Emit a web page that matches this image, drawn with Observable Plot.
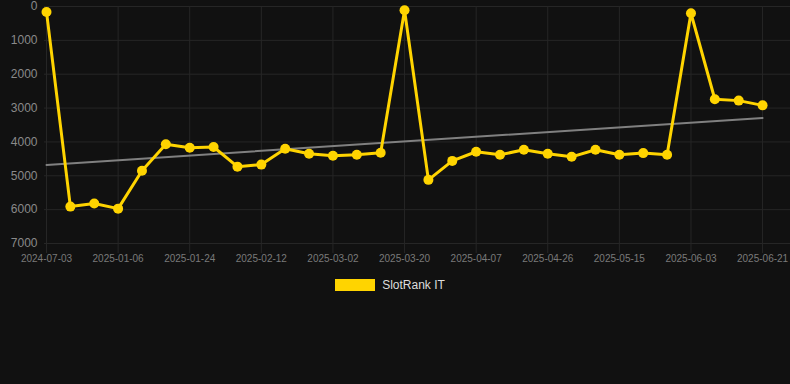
<!DOCTYPE html>
<html>
<head>
<meta charset="utf-8">
<script src="https://cdn.jsdelivr.net/npm/d3@7"></script>
<script src="https://cdn.jsdelivr.net/npm/@observablehq/plot@0.6"></script>
<style>
  html, body { margin: 0; padding: 0; background: #111111; }
  body { width: 790px; height: 384px; overflow: hidden; font-family: "Liberation Sans", Arial, sans-serif; }
  #legend { display: flex; justify-content: center; align-items: center; margin-top: 8px; padding-right: 10px; }
  #legend .sw { width: 40px; height: 12px; background: #FFD400; margin-right: 7px; }
  #legend span { color: #dddddd; font-size: 12px; }
</style>
</head>
<body>
<div id="chart"></div>
<div id="legend"><div class="sw"></div><span id="lgtext"></span></div>
<script>
const seriesName = "SlotRank IT";
const tickLabels = ["2024-07-03","2025-01-06","2025-01-24","2025-02-12","2025-03-02","2025-03-20","2025-04-07","2025-04-26","2025-05-15","2025-06-03","2025-06-21"];
const ranks = [160,5910,5820,5970,4850,4070,4170,4150,4730,4670,4200,4350,4410,4380,4320,110,5120,4560,4290,4380,4230,4350,4440,4230,4380,4330,4380,200,2740,2780,2920];
const yTicks = [0,1000,2000,3000,4000,5000,6000,7000];

const data = ranks.map((v, i) => ({i, v}));
const tickIdx = tickLabels.map((_, k) => k * 3);
const fmtX = i => tickLabels[Math.round(i / 3)];
const gridColor = "#262626";
const gold = "#FFD400";

const chart = Plot.plot({
  width: 790,
  height: 270,
  marginLeft: 44,
  marginRight: 0,
  marginTop: 6,
  marginBottom: 27,
  style: {background: "#111111", color: "#888", fontFamily: "'Liberation Sans', Arial, sans-serif"},
  x: {type: "linear", domain: [-0.084, 31.17], label: null},
  y: {domain: [0, 7000], reverse: true, label: null},
  marks: [
    Plot.gridY(yTicks, {stroke: gridColor, strokeOpacity: 1}),
    Plot.gridX(tickIdx, {stroke: gridColor, strokeOpacity: 1}),
    Plot.axisX(tickIdx, {tickFormat: fmtX, tickSize: 10, tickPadding: 1, stroke: gridColor, fill: "#7a7a7a", fontSize: 10, label: null}),
    Plot.axisY(yTicks, {tickFormat: d => String(d), tickSize: 0, tickPadding: 7, fill: "#8a8a8a", fontSize: 12, label: null}),
    Plot.linearRegressionY(data, {x: "i", y: "v", ci: 0, stroke: "#808080", strokeWidth: 2}),
    Plot.line(data, {x: "i", y: "v", stroke: gold, strokeWidth: 3}),
    Plot.dot(data, {x: "i", y: "v", r: 5, fill: gold})
  ]
});
document.getElementById("chart").appendChild(chart);
document.getElementById("lgtext").textContent = seriesName;
</script>
</body>
</html>
